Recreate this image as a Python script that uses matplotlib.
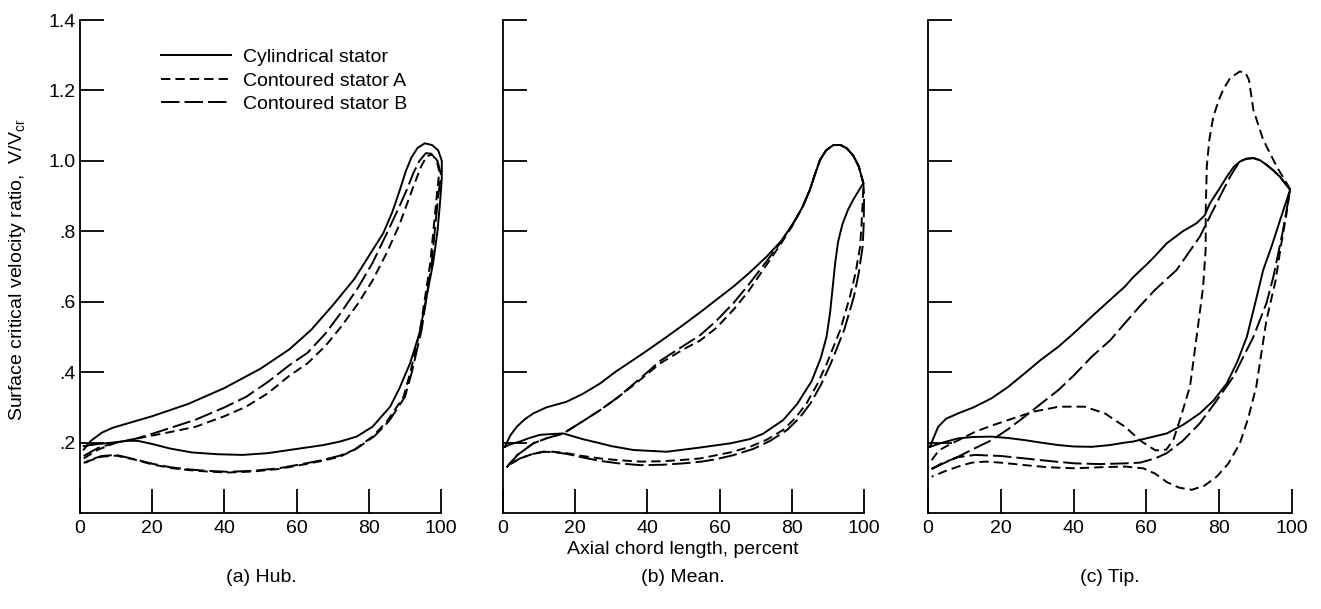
import matplotlib
matplotlib.use('Agg')
import matplotlib.pyplot as plt

plt.rcParams['font.family'] = ['Liberation Sans', 'DejaVu Sans']
plt.rcParams['font.size'] = 14

# ---- (a) Hub: closed loops, suction side then pressure side back to leading edge
hub_cyl_x = [1, 3, 6, 9, 13, 20, 30, 40, 50, 58, 64, 70, 76, 80, 84, 86.5, 88.6, 90.2, 91.8, 93.5, 95.5, 97.5, 99.2, 100.2,
             100.2, 99.7, 99, 97.8, 96, 94, 91.4, 88.5, 85.9, 81, 76.6, 72, 67.4, 60, 52, 45, 38, 31, 25, 20, 16, 13, 9, 5, 1]
hub_cyl_y = [0.18, 0.205, 0.228, 0.242, 0.254, 0.275, 0.31, 0.355, 0.41, 0.465, 0.52, 0.59, 0.665, 0.73, 0.795, 0.855, 0.918, 0.97, 1.01, 1.037, 1.05, 1.045, 1.03, 1.0,
             0.95, 0.88, 0.8, 0.71, 0.615, 0.51, 0.425, 0.355, 0.302, 0.245, 0.217, 0.203, 0.193, 0.182, 0.17, 0.165, 0.167, 0.172, 0.183, 0.196, 0.205, 0.205, 0.2, 0.196, 0.19]

hub_a_x = [1, 5, 10, 15, 20, 26, 32, 40, 46, 52, 58, 63, 68, 72, 77, 81, 85, 88.5, 91, 92.8, 94.5, 96, 97.5, 98.8, 99.5,
           98.8, 97, 94.2, 91.5, 89.6, 85, 81, 76, 72, 67, 62, 55, 48, 41, 35, 30, 25, 20, 15, 10, 6, 3, 1]
hub_a_y = [0.155, 0.18, 0.2, 0.21, 0.22, 0.232, 0.245, 0.275, 0.302, 0.34, 0.39, 0.425, 0.475, 0.525, 0.595, 0.66, 0.74, 0.82, 0.89, 0.94, 0.985, 1.013, 1.018, 1.0, 0.97,
           0.9, 0.71, 0.52, 0.4, 0.33, 0.26, 0.217, 0.18, 0.16, 0.148, 0.138, 0.125, 0.118, 0.115, 0.118, 0.122, 0.128, 0.138, 0.152, 0.163, 0.16, 0.15, 0.14]

hub_b_x = [1, 5, 10, 15, 20, 26, 32, 40, 46, 52, 58, 63, 68, 72, 77, 81, 85, 88.2, 90.5, 92.3, 94, 95.8, 97.5, 99, 100,
           99.2, 97.4, 94.6, 91.9, 90, 85.5, 81.5, 76.5, 72, 67, 62, 55, 48, 41, 35, 30, 25, 20, 15, 10, 6, 3, 1]
hub_b_y = [0.162, 0.185, 0.2, 0.21, 0.225, 0.245, 0.265, 0.3, 0.33, 0.372, 0.42, 0.455, 0.51, 0.565, 0.64, 0.71, 0.795, 0.865, 0.918, 0.965, 1.0, 1.022, 1.02, 1.0, 0.96,
           0.9, 0.71, 0.52, 0.4, 0.33, 0.26, 0.218, 0.182, 0.163, 0.15, 0.14, 0.127, 0.12, 0.117, 0.12, 0.124, 0.13, 0.14, 0.153, 0.165, 0.162, 0.152, 0.142]

# ---- (b) Mean
mean_cyl_x = [0.5, 2, 3.8, 6, 8.4, 12, 17.6, 22, 26.9, 31, 36.1, 40, 45.3, 50, 54.6, 59, 63.8, 68, 73, 77, 80.4, 83, 85, 86.5, 87.8, 89.5, 91.5, 93.5, 95.2, 97, 98.5, 99.8,
              98.5, 97, 95.5, 94, 92.8, 92, 91.3, 90.6, 89.6, 88, 85.5, 81.5, 77.6, 72, 68.4, 63, 54.6, 45.3, 36.1, 30, 26.9, 22, 16.7, 13, 10.2, 7, 4.7, 2, 0.5]
mean_cyl_y = [0.188, 0.22, 0.245, 0.266, 0.283, 0.3, 0.316, 0.338, 0.368, 0.4, 0.435, 0.462, 0.5, 0.535, 0.57, 0.605, 0.643, 0.68, 0.728, 0.772, 0.823, 0.87, 0.918, 0.965, 1.003, 1.03, 1.045, 1.045, 1.036, 1.015, 0.985, 0.937,
              0.915, 0.89, 0.86, 0.82, 0.77, 0.71, 0.64, 0.57, 0.5, 0.44, 0.375, 0.31, 0.264, 0.225, 0.21, 0.198, 0.186, 0.174, 0.179, 0.19, 0.198, 0.21, 0.226, 0.224, 0.222, 0.212, 0.203, 0.195, 0.188]

mean_a_x = [1, 4, 8.4, 12, 16.7, 22, 27, 32, 36, 40, 43.5, 50, 54.6, 59, 63.8, 68, 73, 77, 80.4, 83, 85, 86.5, 87.8, 89.5, 91.5, 93.5, 95.2, 97, 98.5, 99.8,
            99.7, 99.3, 98.9, 97.6, 96.1, 93.4, 89.7, 87, 84.1, 81, 77.6, 73, 68.4, 62.9, 58, 54.6, 50, 44, 38, 32, 26.9, 22, 17.6, 14, 11.2, 8, 4.7, 2.5, 1]
mean_a_y = [0.13, 0.165, 0.198, 0.212, 0.226, 0.26, 0.293, 0.33, 0.362, 0.395, 0.425, 0.465, 0.49, 0.525, 0.577, 0.63, 0.705, 0.765, 0.82, 0.87, 0.918, 0.965, 1.003, 1.03, 1.045, 1.045, 1.036, 1.015, 0.985, 0.937,
            0.9, 0.82, 0.756, 0.68, 0.615, 0.52, 0.425, 0.365, 0.312, 0.27, 0.236, 0.208, 0.188, 0.172, 0.162, 0.155, 0.151, 0.147, 0.146, 0.15, 0.155, 0.162, 0.17, 0.174, 0.174, 0.167, 0.155, 0.142, 0.13]

mean_b_x = [1, 4, 8.4, 12, 16.7, 22, 27, 32, 36, 40, 43.5, 50, 54.6, 59, 63.8, 68, 73, 77, 80.4, 83, 85, 86.5, 87.8, 89.5, 91.5, 93.5, 95.2, 97, 98.5, 99.8,
            100, 99.9, 99.6, 98.5, 97.2, 94.5, 90.8, 88.1, 85.2, 82.1, 78.7, 74, 69.3, 63.7, 58.6, 55, 50, 44, 38, 32, 26.9, 22, 17.6, 14, 11.2, 8, 4.7, 2.5, 1]
mean_b_y = [0.13, 0.165, 0.198, 0.212, 0.226, 0.26, 0.293, 0.33, 0.365, 0.4, 0.432, 0.475, 0.505, 0.545, 0.596, 0.648, 0.715, 0.77, 0.823, 0.87, 0.918, 0.965, 1.003, 1.03, 1.045, 1.045, 1.036, 1.015, 0.985, 0.937,
            0.9, 0.82, 0.756, 0.68, 0.615, 0.52, 0.425, 0.365, 0.312, 0.27, 0.236, 0.205, 0.182, 0.164, 0.152, 0.146, 0.141, 0.137, 0.136, 0.141, 0.148, 0.158, 0.168, 0.173, 0.174, 0.167, 0.155, 0.142, 0.13]

# ---- (c) Tip
tip_cyl_x = [0.5, 2.8, 5, 8.3, 12.5, 17.5, 22, 26.6, 31, 35.8, 40, 45, 50, 54.1, 56.4, 60, 62.4, 65.6, 70, 73.8, 76, 77.5, 80, 82.1, 84, 85.7, 87.5, 89.4, 91.2, 93, 95, 96.7, 99.5,
             97, 94.5, 92.1, 90, 87.6, 85, 82.1, 78.5, 74.7, 70, 65.6, 62.4, 56.4, 54.1, 50, 45, 40, 35.8, 31, 26.6, 22, 17.5, 12.5, 8.3, 4, 0.5]
tip_cyl_y = [0.188, 0.245, 0.268, 0.283, 0.3, 0.326, 0.358, 0.397, 0.435, 0.472, 0.51, 0.558, 0.605, 0.643, 0.67, 0.705, 0.73, 0.766, 0.8, 0.823, 0.845, 0.88, 0.92, 0.955, 0.983, 0.998, 1.006, 1.008, 1.002, 0.989, 0.972, 0.955, 0.918,
             0.84, 0.76, 0.69, 0.6, 0.5, 0.43, 0.368, 0.32, 0.283, 0.25, 0.226, 0.218, 0.203, 0.2, 0.193, 0.188, 0.189, 0.193, 0.2, 0.207, 0.213, 0.217, 0.216, 0.212, 0.2, 0.188]

tip_a_x = [1, 3, 6, 9, 13, 18, 22, 29, 36, 43, 48.6, 54.1, 58.7, 62.5, 65.5, 67.5, 69.2, 72, 73.8, 75.6, 76.3, 76.3, 76.6, 77.3, 78.4, 80, 81.1, 83, 85.7, 87.2, 88.2, 89.4, 92.1, 95.8, 99.5,
           98.5, 97, 95.5, 93, 90.2, 88, 85.7, 82.5, 79.3, 76, 72.5, 69, 65.6, 62.4, 59.1, 54.1, 47.3, 40.4, 33, 26.6, 20, 15.7, 12, 8.3, 4.5, 1]
tip_a_y = [0.15, 0.178, 0.195, 0.21, 0.231, 0.25, 0.264, 0.288, 0.302, 0.302, 0.283, 0.245, 0.203, 0.178, 0.18, 0.21, 0.264, 0.36, 0.5, 0.643, 0.75, 0.85, 0.984, 1.06, 1.126, 1.175, 1.202, 1.235, 1.254, 1.25, 1.23, 1.145, 1.06, 0.984, 0.92,
           0.85, 0.76, 0.66, 0.548, 0.359, 0.27, 0.198, 0.14, 0.103, 0.078, 0.066, 0.072, 0.088, 0.112, 0.127, 0.132, 0.13, 0.127, 0.13, 0.136, 0.143, 0.146, 0.143, 0.132, 0.118, 0.103]

tip_b_x = [1, 4, 8.3, 12.5, 17.5, 22, 26.6, 31, 35.8, 40, 45, 50, 54.1, 58, 62.4, 68.3, 74.7, 79.3, 83, 85.7, 87.5, 89.4, 91.2, 93, 95, 96.7, 99.5,
           97.5, 94.9, 93, 89.4, 83.9, 79, 74.7, 70, 65.6, 62.4, 58.2, 54.1, 47.3, 40.4, 33, 26.6, 20, 12.9, 8, 3.8, 1]
tip_b_y = [0.125, 0.14, 0.16, 0.182, 0.207, 0.238, 0.274, 0.31, 0.349, 0.39, 0.444, 0.49, 0.539, 0.585, 0.634, 0.69, 0.785, 0.88, 0.955, 1.0, 1.006, 1.008, 1.002, 0.989, 0.972, 0.955, 0.918,
           0.8, 0.671, 0.596, 0.5, 0.387, 0.315, 0.255, 0.205, 0.17, 0.155, 0.143, 0.141, 0.139, 0.141, 0.148, 0.155, 0.162, 0.165, 0.158, 0.141, 0.125]

labels = ['Cylindrical stator', 'Contoured stator A', 'Contoured stator B']
captions = ['(a) Hub.', '(b) Mean.', '(c) Tip.']
x_ticks = [0, 20, 40, 60, 80, 100]
y_ticks = [0.2, 0.4, 0.6, 0.8, 1.0, 1.2, 1.4]
y_ticklabels = ['.2', '.4', '.6', '.8', '1.0', '1.2', '1.4']

panels = [
    [(hub_cyl_x, hub_cyl_y), (hub_a_x, hub_a_y), (hub_b_x, hub_b_y)],
    [(mean_cyl_x, mean_cyl_y), (mean_a_x, mean_a_y), (mean_b_x, mean_b_y)],
    [(tip_cyl_x, tip_cyl_y), (tip_a_x, tip_a_y), (tip_b_x, tip_b_y)],
]

lw = 1.4
styles = [dict(linestyle='-'), dict(dashes=(4.8, 2.6)), dict(dashes=(9.5, 2.6))]

fig = plt.figure(figsize=(13.21, 6.09), dpi=100)
lefts = [0.0606, 0.3808, 0.7025]
widths = [0.2733, 0.2733, 0.2755]

axes = []
for i, curves in enumerate(panels):
    ax = fig.add_axes([lefts[i], 0.1576, widths[i], 0.8095])
    for (cx, cy), st, lab in zip(curves, styles, labels):
        ax.plot(cx, cy, color='black', lw=lw, clip_on=False, label=lab, **st)
    ax.set_xlim(0, 100)
    ax.set_ylim(0, 1.4)
    for s in ['top', 'right']:
        ax.spines[s].set_visible(False)
    for s in ['left', 'bottom']:
        ax.spines[s].set_linewidth(1.3)
    ax.set_xticks(x_ticks)
    ax.set_yticks(y_ticks)
    ax.tick_params(direction='in', length=17, width=1.3, pad=5)
    if i == 0:
        ax.set_yticklabels(y_ticklabels)
        ax.tick_params(axis='y', pad=3)
    else:
        ax.set_yticklabels([])
    axes.append(ax)

axes[0].legend(loc='upper left', bbox_to_anchor=(0.224, 0.942), frameon=False,
               handlelength=3.6, handletextpad=0.6, labelspacing=0.3, borderaxespad=0, borderpad=0)

fig.text(0.0136, 0.557, 'Surface critical velocity ratio,  V/V$_{\\mathregular{cr}}$',
         rotation=90, ha='center', va='center')
fig.text(0.517, 0.0985, 'Axial chord length, percent', ha='center', va='center')
for xc, cap in zip([0.198, 0.517, 0.840], captions):
    fig.text(xc, 0.0525, cap, ha='center', va='center')

fig.savefig('out.png', dpi=100)
